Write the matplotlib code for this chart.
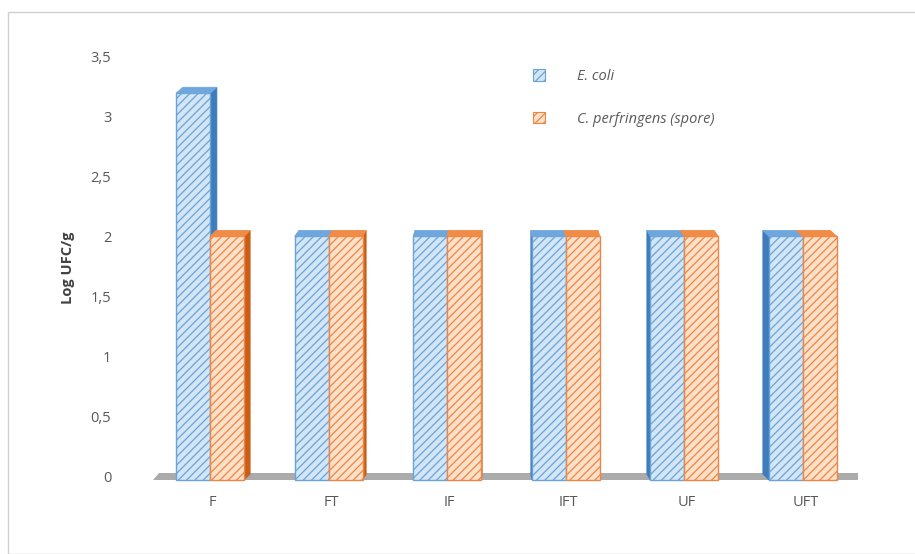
import matplotlib
matplotlib.use("Agg")
import matplotlib.pyplot as plt
from matplotlib.patches import Polygon, Rectangle, Patch
import numpy as np

categories = ["F", "FT", "IF", "IFT", "UF", "UFT"]
ecoli = [3.19, 2.0, 2.0, 2.0, 2.0, 2.0]
cperf = [2.0, 2.0, 2.0, 2.0, 2.0, 2.0]
series_names = ["E. coli", "C. perfringens (spore)"]
yticks = [0, 0.5, 1, 1.5, 2, 2.5, 3, 3.5]
ytick_labels = ["0", "0,5", "1", "1,5", "2", "2,5", "3", "3,5"]
ylabel = "Log UFC/g"

plt.rcParams['font.family'] = ['Open Sans', 'DejaVu Sans']
plt.rcParams['hatch.linewidth'] = 0.9

W, H = 915, 554
fig = plt.figure(figsize=(W / 100, H / 100), dpi=100)

# outer border
fig.add_artist(Rectangle((8 / W, 0), 1, 1 - 12 / H, transform=fig.transFigure,
                         fill=False, edgecolor="#d0d0d0", lw=1.0))

ax_l, ax_r = 153, 858
ax_t, ax_b = 56, 477
ax = fig.add_axes([ax_l / W, (H - ax_b) / H, (ax_r - ax_l) / W, (ax_b - ax_t) / H])
spacing = 118.6
x0px = 210
xmin = (ax_l - x0px) / spacing
xmax = (ax_r - x0px) / spacing
ax.set_xlim(xmin, xmax)
ax.set_ylim(0, 3.5)
for s in ax.spines.values():
    s.set_visible(False)
ax.patch.set_alpha(0)

px_x = (xmax - xmin) / (ax_r - ax_l)   # data units per pixel in x
px_y = 3.5 / (ax_b - ax_t)             # data units per pixel in y

x = np.arange(len(categories))
bw = 34 / spacing

# floor
floor = Polygon([(xmin, -3 * px_y), (xmax, -3 * px_y), (xmax, 4 * px_y),
                 (xmin + 6 * px_x, 4 * px_y)], closed=True,
                facecolor="#ababab", edgecolor="none", clip_on=False, zorder=1)
ax.add_patch(floor)

styles = [
    dict(face="#d3e6f6", hatch_col="#6aa3d8", side="#3f7cbc", top="#6fa7dc"),
    dict(face="#fde0c8", hatch_col="#ee8544", side="#c95f17", top="#f08b48"),
]
vals = [ecoli, cperf]
offsets = [-bw / 2, bw / 2]
vanish = 2.5
dy = 6 * px_y

bottom = -3 * px_y
for si, (v, off, st) in enumerate(zip(vals, offsets, styles)):
    xs = x + off
    for xc, h in zip(xs, v):
        dx = 2.6 * (vanish - xc) * px_x
        xa, xb = xc - bw / 2, xc + bw / 2
        if dx > 0:
            side = [(xb, bottom), (xb, h), (xb + dx, h + dy), (xb + dx, bottom + dy)]
        else:
            side = [(xa, bottom), (xa, h), (xa + dx, h + dy), (xa + dx, bottom + dy)]
        ax.add_patch(Polygon(side, closed=True, facecolor=st["side"],
                             edgecolor=st["side"], lw=0.6, zorder=2 + si * 0.1, clip_on=False))
        top = [(xa, h), (xb, h), (xb + dx, h + dy), (xa + dx, h + dy)]
        ax.add_patch(Polygon(top, closed=True, facecolor=st["top"],
                             edgecolor=st["top"], lw=0.6, zorder=4 + si * 0.1, clip_on=False))
    ax.bar(xs, np.array(v) - bottom, bottom=bottom, width=bw, color=st["face"],
           edgecolor=st["hatch_col"], hatch="////", lw=1.0, zorder=3 + si * 0.1,
           clip_on=False)

ax.set_xticks(x + 0.02)
ax.set_xticklabels(categories, color="#595959", fontsize=10.5)
ax.set_yticks(yticks)
ax.set_yticklabels(ytick_labels, color="#595959", fontsize=10.5)
ax.tick_params(axis="y", length=0, pad=30)
ax.tick_params(axis="x", length=0, pad=13)

fig.text(68 / W, 1 - 268 / H, ylabel, rotation=90, ha="center", va="center",
         fontsize=10.5, fontweight="bold", color="#404040")

handles = [Patch(facecolor=styles[i]["face"], edgecolor=styles[i]["hatch_col"],
                 hatch="////", lw=0.8) for i in range(2)]
leg = fig.legend(handles, series_names, loc="upper left",
                 bbox_to_anchor=(520 / W, 1 - 56 / H), frameon=False,
                 prop=dict(style="italic", size=10.5), labelcolor="#595959",
                 handlelength=0.8, handleheight=0.8, handletextpad=2.2,
                 labelspacing=1.9)

fig.savefig("out.png", dpi=100)
